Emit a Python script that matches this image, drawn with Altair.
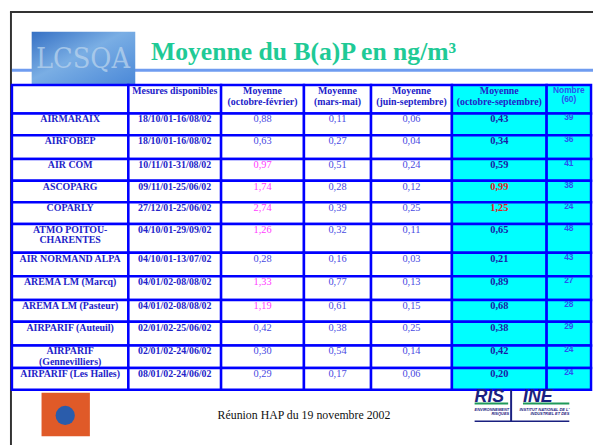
import altair as alt
import pandas as pd

# ---------------- data ----------------
stations = ["AIRMARAIX", "AIRFOBEP", "AIR COM", "ASCOPARG", "COPARLY",
            "ATMO POITOU-\nCHARENTES", "AIR NORMAND ALPA", "AREMA LM (Marcq)",
            "AREMA LM (Pasteur)", "AIRPARIF (Auteuil)", "AIRPARIF\n(Gennevilliers)",
            "AIRPARIF (Les Halles)"]
periods = ["18/10/01-16/08/02", "18/10/01-16/08/02", "10/11/01-31/08/02",
           "09/11/01-25/06/02", "27/12/01-25/06/02", "04/10/01-29/09/02",
           "04/10/01-13/07/02", "04/01/02-08/08/02", "04/01/02-08/08/02",
           "02/01/02-25/06/02", "02/01/02-24/06/02", "08/01/02-24/06/02"]
oct_feb = [0.88, 0.63, 0.97, 1.74, 2.74, 1.26, 0.28, 1.33, 1.19, 0.42, 0.30, 0.29]
mar_mai = [0.11, 0.27, 0.51, 0.28, 0.39, 0.32, 0.16, 0.77, 0.61, 0.38, 0.54, 0.17]
juin_sep = [0.06, 0.04, 0.24, 0.12, 0.25, 0.11, 0.03, 0.13, 0.15, 0.25, 0.14, 0.06]
oct_sep = [0.43, 0.34, 0.59, 0.99, 1.25, 0.65, 0.21, 0.89, 0.68, 0.38, 0.42, 0.20]
nombre = [39, 36, 41, 38, 24, 48, 43, 27, 28, 29, 24, 24]

headers = ["", "Mesures disponibles", "Moyenne\n(octobre-février)", "Moyenne\n(mars-mai)",
           "Moyenne\n(juin-septembre)", "Moyenne\n(octobre-septembre)", "Nombre\n(60)"]
title = "Moyenne du B(a)P en ng/m³"
footer = "Réunion HAP du 19 novembre 2002"

# ---------------- layout ----------------
COL_EDGES = [12, 130, 224, 308, 376, 458, 554, 599]
ROW_EDGES = [83, 112, 134, 158, 180, 202, 224, 253, 277, 301, 323, 347, 370, 392]
SERIF = "Liberation Serif"
SANS = "Liberation Sans"
BLUE_LINE = "#0000ff"
C_NAME = "#2222c8"
C_VAL = "#4a4ae2"
C_MAG = "#ff3cff"
C_BOLD = "#1a1aa6"
C_RED = "#e02020"
C_NB = "#2a52f0"

def fr(v):
    return f"{v:.2f}".replace(".", ",")

X = lambda f="x": alt.X(f"{f}:Q", scale=alt.Scale(domain=[8, 601], nice=False, zero=False), axis=None)
Y = lambda f="y": alt.Y(f"{f}:Q", scale=alt.Scale(domain=[8, 448], reverse=True, nice=False, zero=False), axis=None)

def cx(c):
    return (COL_EDGES[c] + COL_EDGES[c + 1]) / 2

# cells
cells = []
for r in range(len(ROW_EDGES) - 1):
    for c in range(len(COL_EDGES) - 1):
        cells.append(dict(x=COL_EDGES[c], x2=COL_EDGES[c + 1], y=ROW_EDGES[r], y2=ROW_EDGES[r + 1],
                          fill="#00ffff" if c >= 5 else "#ffffff"))
cells = pd.DataFrame(cells)
rect_layer = alt.Chart(cells).mark_rect(stroke=BLUE_LINE, strokeWidth=2.5).encode(
    x=X(), x2="x2:Q", y=Y(), y2="y2:Q", color=alt.Color("fill:N", scale=None))

# header texts
hdr_serif = pd.DataFrame([dict(x=cx(c), y=ROW_EDGES[0] + 1, t=headers[c]) for c in range(1, 6)])
hdr_serif_layer = alt.Chart(hdr_serif).mark_text(
    font=SERIF, fontSize=10, fontWeight="bold", baseline="top", align="center",
    lineBreak="\n", lineHeight=11.5, color=C_NAME).encode(x=X(), y=Y(), text="t:N")
hdr_sans = pd.DataFrame([dict(x=cx(6), y=ROW_EDGES[0] + 1, t=headers[6])])
hdr_sans_layer = alt.Chart(hdr_sans).mark_text(
    font=SANS, fontSize=8.5, fontWeight="bold", baseline="top", align="center",
    lineBreak="\n", lineHeight=9, color=C_NB).encode(x=X(), y=Y(), text="t:N")

rows = []
for i in range(len(stations)):
    top = ROW_EDGES[i + 1] + 1
    rows.append(dict(i=i, y=top, name=stations[i], period=periods[i],
                     a=fr(oct_feb[i]), ac=C_MAG if oct_feb[i] >= 0.9 else C_VAL,
                     b=fr(mar_mai[i]), c=fr(juin_sep[i]),
                     d=fr(oct_sep[i]), dc=C_RED if oct_sep[i] >= 0.9 else C_BOLD,
                     n=str(nombre[i]),
                     x0=cx(0), x1=cx(1), x2=cx(2), x3=cx(3), x4=cx(4), x5=cx(5), x6=cx(6)))
rows = pd.DataFrame(rows)

def txt(xf, tf, font, size, weight, color=None, colorfield=None, dy=0):
    m = alt.Chart(rows).mark_text(font=font, fontSize=size, fontWeight=weight, baseline="top",
                                  align="center", lineBreak="\n", lineHeight=10.5, dy=dy,
                                  **({"color": color} if color else {}))
    enc = dict(x=X(xf), y=Y(), text=f"{tf}:N")
    if colorfield:
        enc["color"] = alt.Color(f"{colorfield}:N", scale=None)
    return m.encode(**enc)

name_layer = txt("x0", "name", SERIF, 10, "bold", color=C_NAME)
period_layer = txt("x1", "period", SERIF, 10, "bold", color=C_NAME)
a_layer = txt("x2", "a", SERIF, 10.5, "normal", colorfield="ac")
b_layer = txt("x3", "b", SERIF, 10.5, "normal", color=C_VAL)
c_layer = txt("x4", "c", SERIF, 10.5, "normal", color=C_VAL)
d_layer = txt("x5", "d", SERIF, 10.5, "bold", colorfield="dc")
n_layer = txt("x6", "n", SANS, 8.5, "bold", color=C_NB, dy=-1)

# decorations: frame lines and title underline
lines = pd.DataFrame([
    dict(x=11, x2=11, y=9, y2=448, c="#333333", w=2),
    dict(x=10, x2=601, y=9, y2=9, c="#333333", w=2),
    dict(x=12, x2=601, y=68, y2=68, c="#6f9cf0", w=3),
])
line_layer = alt.Chart(lines).mark_rule().encode(
    x=X(), x2="x2:Q", y=Y(), y2="y2:Q",
    color=alt.Color("c:N", scale=None), strokeWidth=alt.StrokeWidth("w:Q", scale=None))

# LCSQA logo
logo = pd.DataFrame([dict(x=32, x2=137, y=29, y2=83, tx=84, ty=57, t="LCSQA")])
grad = alt.LinearGradient(gradient="linear", x1=0, x2=1, y1=0, y2=1, stops=[
    alt.GradientStop(color="#3570c4", offset=0),
    alt.GradientStop(color="#7aaee4", offset=0.45),
    alt.GradientStop(color="#4a88d8", offset=1)])
logo_rect = alt.Chart(logo).mark_rect(color=grad).encode(x=X(), x2="x2:Q", y=Y(), y2="y2:Q")
logo_txt = alt.Chart(logo).mark_text(font="DejaVu Serif Condensed", fontSize=29, color="#b4d0ec",
                                     opacity=0.8, align="center", baseline="middle").encode(
    x=X("tx"), y=Y("ty"), text="t:N")

# title
ttl = pd.DataFrame([dict(x=153, y=58, t=title)])
title_layer = alt.Chart(ttl).mark_text(font=SERIF, fontSize=26, fontWeight="bold", color="#1fca96",
                                       align="left", baseline="alphabetic").encode(
    x=X(), y=Y(), text="t:N")

# footer
ft = pd.DataFrame([dict(x=308, y=422, t=footer)])
footer_layer = alt.Chart(ft).mark_text(font=SERIF, fontSize=12, color="#111111",
                                       align="center", baseline="alphabetic").encode(
    x=X(), y=Y(), text="t:N")

# orange logo
olog = pd.DataFrame([dict(x=42, x2=91, y=395, y2=439, cxp=66, cyp=418)])
olog_rect = alt.Chart(olog).mark_rect(color="#e05a28").encode(x=X(), x2="x2:Q", y=Y(), y2="y2:Q")
olog_dot = alt.Chart(olog).mark_point(filled=True, shape="circle", size=380, color="#2a5cab",
                                      opacity=1).encode(x=X("cxp"), y=Y("cyp"))

# INERIS-like logos
ilines = pd.DataFrame([
    dict(x=481, x2=515, y=406, y2=406, c="#1f9a5a", w=2),
    dict(x=530, x2=577, y=406, y2=406, c="#1f9a5a", w=2),
    dict(x=518, x2=518, y=392, y2=424, c="#1a2080", w=2),
    dict(x=481, x2=577, y=424, y2=424, c="#1a2080", w=1.5),
])
iline_layer = alt.Chart(ilines).mark_rule().encode(
    x=X(), x2="x2:Q", y=Y(), y2="y2:Q",
    color=alt.Color("c:N", scale=None), strokeWidth=alt.StrokeWidth("w:Q", scale=None))
itext = pd.DataFrame([
    dict(x=481, y=404, t="RIS", s=18),
    dict(x=530, y=404, t="INE", s=18),
])
itext_layer = alt.Chart(itext).mark_text(font=SANS, fontWeight="bold", fontStyle="italic",
                                         color="#1a2080", align="left", baseline="alphabetic").encode(
    x=X(), y=Y(), text="t:N", size=alt.Size("s:Q", scale=None))
ismall = pd.DataFrame([
    dict(x=516, y=413, t="ENVIRONNEMENT"),
    dict(x=516, y=418, t="RISQUES"),
    dict(x=577, y=413, t="INSTITUT NATIONAL DE L'"),
    dict(x=577, y=418, t="INDUSTRIEL ET DES"),
])
ismall_layer = alt.Chart(ismall).mark_text(font=SANS, fontWeight="bold", fontStyle="italic", fontSize=4,
                                           color="#1a2080", align="right", baseline="alphabetic").encode(
    x=X(), y=Y(), text="t:N")

chart = alt.layer(
    line_layer, logo_rect, logo_txt, title_layer,
    rect_layer, hdr_serif_layer, hdr_sans_layer,
    name_layer, period_layer, a_layer, b_layer, c_layer, d_layer, n_layer,
    footer_layer, olog_rect, olog_dot, iline_layer, itext_layer, ismall_layer,
).properties(width=593, height=440, autosize=alt.AutoSizeParams(type="none"), padding=0,
             background="white").configure_view(stroke=None)

chart.save("out.html", embed_options={"renderer": "svg", "actions": False})
